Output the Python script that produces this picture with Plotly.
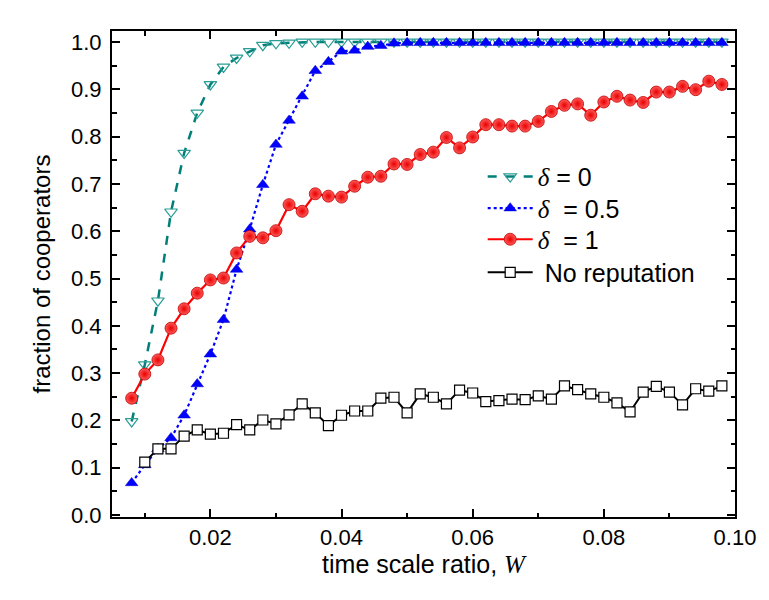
import plotly.graph_objects as go

# ---- data ----
w_values = [0.008, 0.010, 0.012, 0.014, 0.016, 0.018, 0.020, 0.022, 0.024, 0.026,
            0.028, 0.030, 0.032, 0.034, 0.036, 0.038, 0.040, 0.042, 0.044, 0.046,
            0.048, 0.050, 0.052, 0.054, 0.056, 0.058, 0.060, 0.062, 0.064, 0.066,
            0.068, 0.070, 0.072, 0.074, 0.076, 0.078, 0.080, 0.082, 0.084, 0.086,
            0.088, 0.090, 0.092, 0.094, 0.096, 0.098]

delta0 = [0.198, 0.318, 0.453, 0.641, 0.765, 0.850, 0.910, 0.947, 0.966, 0.980,
          0.993, 0.997, 0.998, 1.0, 1.0, 1.0, 1.0, 1.0, 1.0, 1.0,
          1.0, 1.0, 1.0, 1.0, 1.0, 1.0, 1.0, 1.0, 1.0, 1.0,
          1.0, 1.0, 1.0, 1.0, 1.0, 1.0, 1.0, 1.0, 1.0, 1.0,
          1.0, 1.0, 1.0, 1.0, 1.0, 1.0]

delta05 = [0.068, 0.106, 0.140, 0.163, 0.211, 0.277, 0.340, 0.413, 0.519, 0.604,
           0.698, 0.783, 0.834, 0.885, 0.939, 0.958, 0.980, 0.982, 0.990, 0.992,
           0.997, 0.998, 0.998, 0.998, 0.998, 0.998, 0.998, 0.998, 0.998, 0.998,
           0.998, 0.998, 0.998, 0.998, 0.998, 0.998, 0.998, 0.998, 0.998, 0.998,
           0.998, 0.998, 0.998, 0.998, 0.998, 0.998]

delta1 = [0.247, 0.298, 0.328, 0.395, 0.436, 0.469, 0.497, 0.501, 0.554, 0.589,
          0.586, 0.601, 0.656, 0.642, 0.679, 0.674, 0.672, 0.695, 0.714, 0.716,
          0.742, 0.741, 0.762, 0.767, 0.798, 0.776, 0.799, 0.825, 0.825, 0.822,
          0.822, 0.832, 0.853, 0.866, 0.869, 0.845, 0.873, 0.885, 0.877, 0.872,
          0.894, 0.894, 0.906, 0.899, 0.917, 0.910]

w_norep = w_values[1:]
no_reputation = [0.112, 0.140, 0.140, 0.167, 0.180, 0.171, 0.173, 0.191, 0.180,
                 0.201, 0.193, 0.212, 0.235, 0.216, 0.189, 0.211, 0.220, 0.220, 0.247,
                 0.249, 0.216, 0.256, 0.249, 0.235, 0.264, 0.258, 0.240, 0.242, 0.245,
                 0.244, 0.252, 0.245, 0.273, 0.265, 0.256, 0.249, 0.237, 0.218, 0.260,
                 0.272, 0.260, 0.233, 0.267, 0.262, 0.273]

series_names = [
    '<span style="font-family:Liberation Serif"><i>δ</i></span> = 0',
    '<span style="font-family:Liberation Serif"><i>δ</i></span>  = 0.5',
    '<span style="font-family:Liberation Serif"><i>δ</i></span>  = 1',
    ' No reputation',
]

x_tick_vals = [0.02, 0.04, 0.06, 0.08, 0.10]
y_tick_vals = [0.0, 0.1, 0.2, 0.3, 0.4, 0.5, 0.6, 0.7, 0.8, 0.9, 1.0]

FONT = "Arial, 'Liberation Sans', sans-serif"

fig = go.Figure()

fig.add_trace(go.Scatter(
    x=w_values, y=delta0, name=series_names[0], mode="lines+markers", legend="legend",
    line=dict(color="#007f78", width=2.5, dash="dash"),
    marker=dict(symbol="triangle-down-open", size=11, color="#2a9d95",
                line=dict(width=1.2, color="#2a9d95")),
))
fig.add_trace(go.Scatter(
    x=w_values, y=delta05, name=series_names[1], mode="lines+markers", legend="legend2",
    line=dict(color="#0000ff", width=2.2, dash="dot"),
    marker=dict(symbol="triangle-up", size=11, color="#0000ff",
                line=dict(width=0.5, color="#0000cc")),
))
fig.add_trace(go.Scatter(
    x=w_values, y=delta1, name=series_names[2], mode="lines+markers", legend="legend3",
    line=dict(color="#ff0000", width=2.2),
    marker=dict(symbol="circle", size=12, color="#ff5a5a",
                gradient=dict(type="radial", color="#e80000"),
                line=dict(width=0.8, color="#c00000")),
))
fig.add_trace(go.Scatter(
    x=w_norep, y=no_reputation, name=series_names[3], mode="lines+markers", legend="legend4",
    line=dict(color="#000000", width=2),
    marker=dict(symbol="square", size=10, color="#ffffff",
                line=dict(width=1.2, color="#000000")),
))

axis_common = dict(
    showline=True, linecolor="black", linewidth=2, mirror="ticks",
    ticks="inside", ticklen=8, tickwidth=1.5, tickcolor="black",
    showgrid=False, zeroline=False,
    tickfont=dict(family=FONT, size=22, color="black"),
)

fig.update_xaxes(
    range=[0.005, 0.1], tickvals=x_tick_vals, tickformat=".2f",
    minor=dict(ticks="inside", ticklen=4.5, tickwidth=1.5, tickcolor="black", dtick=0.01, tick0=0.0),
    title=dict(text='time scale ratio, <span style="font-family:Liberation Serif"><i>W</i></span>',
               font=dict(family=FONT, size=25, color="black"), standoff=2),
    **axis_common,
)
fig.update_yaxes(
    range=[-0.004, 1.023], tickvals=y_tick_vals, tickformat=".1f",
    minor=dict(ticks="inside", ticklen=4.5, tickwidth=1.5, tickcolor="black", dtick=0.05, tick0=0.0),
    title=dict(text="fraction of cooperators",
               font=dict(family=FONT, size=24, color="black"), standoff=14),
    ticklabelstandoff=4,
    **axis_common,
)

legend_style = dict(xanchor="left", yanchor="middle", bgcolor="rgba(0,0,0,0)",
                    font=dict(family=FONT, size=25, color="black"), itemwidth=45)
legend_x = 0.595

fig.update_layout(
    width=769, height=600,
    margin=dict(l=104, r=42, t=23, b=91),
    paper_bgcolor="white", plot_bgcolor="white",
    font=dict(family=FONT, color="black"),
    showlegend=True,
    legend=dict(x=legend_x, y=0.700, **legend_style),
    legend2=dict(x=legend_x, y=0.635, **legend_style),
    legend3=dict(x=legend_x, y=0.571, **legend_style),
    legend4=dict(x=legend_x, y=0.503, **legend_style),
)

fig.write_html("out.html")
